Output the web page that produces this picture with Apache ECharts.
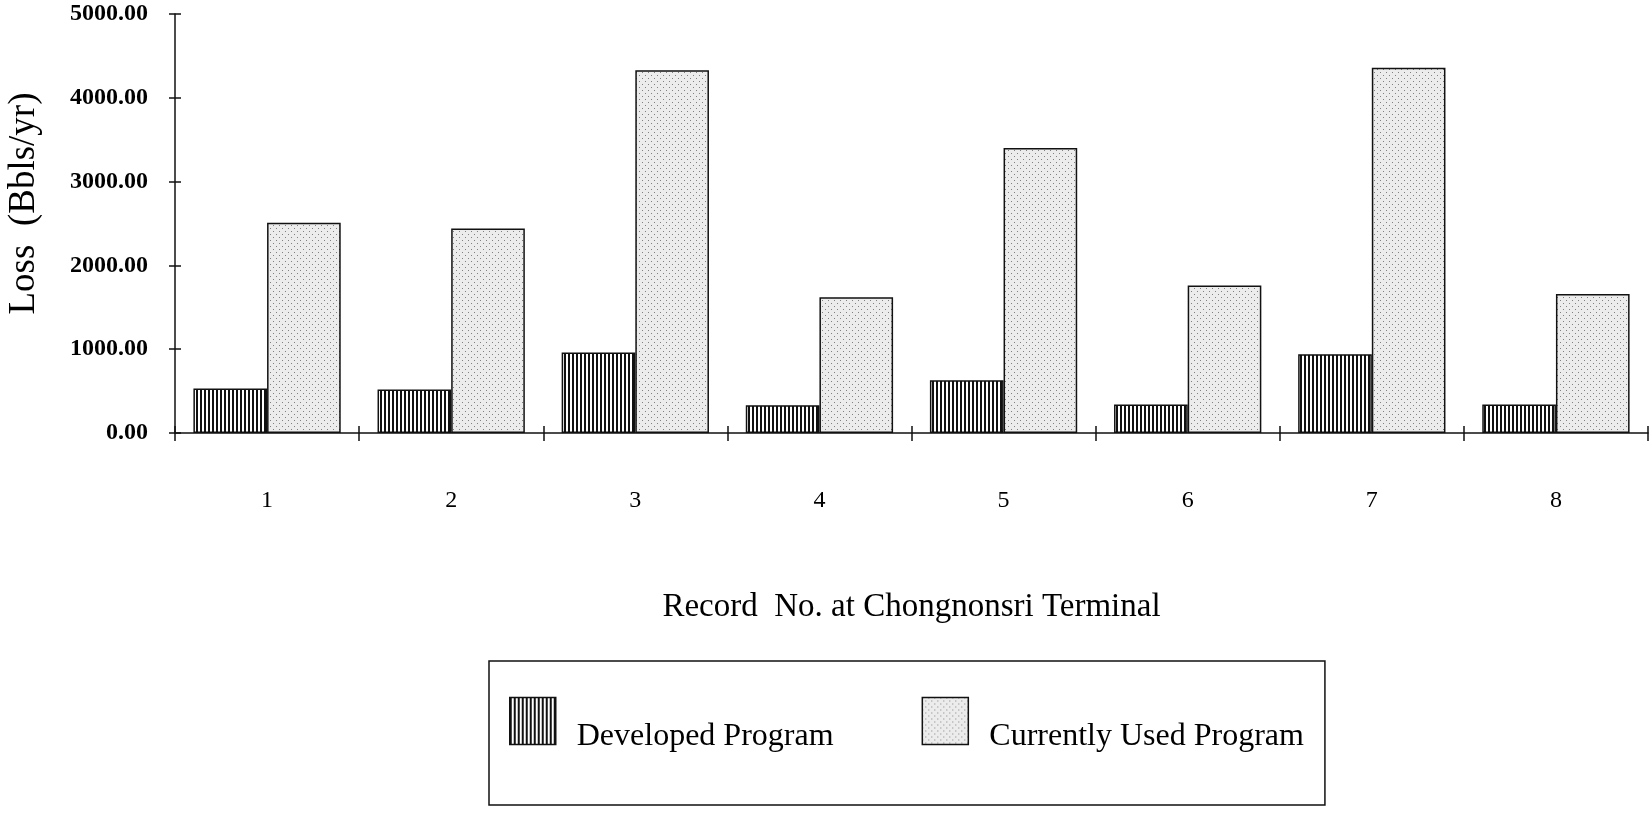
<!DOCTYPE html>
<html>
<head>
<meta charset="utf-8">
<script src="https://cdn.jsdelivr.net/npm/echarts@6/dist/echarts.min.js"></script>
<style>
  html, body { margin: 0; padding: 0; background: #fff; }
  #main { width: 1650px; height: 816px; }
</style>
</head>
<body>
<div id="main"></div>
<script>
// record numbers on the x axis
var records = ['1', '2', '3', '4', '5', '6', '7', '8']
// loss in Bbls/yr
var developedLoss = [530, 520, 960, 330, 630, 340, 940, 340]
var currentLoss = [2510, 2440, 4330, 1620, 3400, 1760, 4360, 1660]
var yTicks = [0, 1000, 2000, 3000, 4000, 5000]

var serif = '"Liberation Serif", "DejaVu Serif", serif'

/* vertical stripes for the developed program */
function stripePattern () {
    var c = document.createElement('canvas')
    c.width = 4
    c.height = 4
    var ctx = c.getContext('2d')
    ctx.fillStyle = '#fff'
    ctx.fillRect(0, 0, 4, 4)
    ctx.fillStyle = '#111'
    ctx.fillRect(0, 0, 2, 4)
    return c
}

/* fine dots for the currently used program */
function dotPattern () {
    var c = document.createElement('canvas')
    c.width = 6
    c.height = 6
    var ctx = c.getContext('2d')
    ctx.fillStyle = '#ececec'
    ctx.fillRect(0, 0, 6, 6)
    ctx.fillStyle = '#808080'
    ctx.fillRect(0, 0, 1, 1)
    ctx.fillRect(3, 3, 1, 1)
    return c
}

var stripeFill = { image: stripePattern(), repeat: 'repeat' }
var dotFill = { image: dotPattern(), repeat: 'repeat' }

var myChart = echarts.init(document.getElementById('main'), null, { renderer: 'canvas' })

var option = {
    backgroundColor: '#fff',
    animation: false,
    textStyle: { fontFamily: serif, color: '#000' },
    grid: { left: 175, right: 2, top: 14, bottom: 383, outerBoundsMode: 'none', containLabel: false },
    legend: {
        left: 489,
        top: 661,
        orient: 'horizontal',
        padding: [28, 21, 52, 20],
        itemWidth: 46,
        itemHeight: 47,
        itemGap: 88,
        borderColor: '#111',
        borderWidth: 1.5,
        // empty first line pushes the label below the swatch centre, as in the scan
        formatter: function (name) { return '\n' + name },
        textStyle: { fontFamily: serif, fontSize: 32, lineHeight: 32, color: '#000', padding: [0, 0, 0, 16] },
        data: [
            { name: 'Developed Program', icon: 'rect', itemStyle: { color: stripeFill, borderColor: '#111', borderWidth: 1.5 } },
            { name: 'Currently Used Program', icon: 'rect', itemStyle: { color: dotFill, borderColor: '#111', borderWidth: 1.5 } }
        ]
    },
    xAxis: [{
        type: 'category',
        data: records,
        position: 'bottom',
        name: 'Record  No. at Chongnonsri Terminal',
        nameLocation: 'middle',
        nameGap: 158,
        nameTextStyle: { fontFamily: serif, fontSize: 33, color: '#000', verticalAlign: 'top' },
        axisLine: { lineStyle: { color: '#111', width: 1.5 } },
        axisTick: { show: true, length: 8, lineStyle: { color: '#111', width: 1.5 } },
        axisLabel: { interval: 0, margin: 56, fontFamily: serif, fontSize: 24, color: '#000' },
        splitLine: { show: false }
    }, {
        // inner half of the crossing ticks
        type: 'category',
        data: records,
        position: 'bottom',
        axisLine: { show: false },
        axisTick: { show: true, inside: true, length: 7, lineStyle: { color: '#111', width: 1.5 } },
        axisLabel: { show: false },
        splitLine: { show: false }
    }],
    yAxis: [{
        type: 'value',
        min: yTicks[0],
        max: yTicks[yTicks.length - 1],
        interval: 1000,
        position: 'left',
        name: 'Loss  (Bbls/yr)',
        nameLocation: 'middle',
        nameGap: 132,
        nameRotate: 90,
        nameTextStyle: { fontFamily: serif, fontSize: 37, color: '#000', padding: [0, 0, 0, 40] },
        axisLine: { show: true, lineStyle: { color: '#111', width: 1.5 } },
        axisTick: { show: true, length: 6, lineStyle: { color: '#111', width: 1.5 } },
        axisLabel: {
            margin: 27,
            fontFamily: serif,
            fontSize: 24,
            fontWeight: 'bold',
            color: '#000',
            formatter: function (v) { return v.toFixed(2) }
        },
        splitLine: { show: false }
    }, {
        type: 'value',
        min: yTicks[0],
        max: yTicks[yTicks.length - 1],
        interval: 1000,
        position: 'left',
        axisLine: { show: false },
        axisTick: { show: true, inside: true, length: 6, lineStyle: { color: '#111', width: 1.5 } },
        axisLabel: { show: false },
        splitLine: { show: false }
    }],
    series: [{
        name: 'Developed Program',
        type: 'bar',
        xAxisIndex: 0,
        yAxisIndex: 0,
        data: developedLoss,
        barGap: '0%',
        barCategoryGap: '20%',
        itemStyle: { color: stripeFill, borderColor: '#111', borderWidth: 1.5 }
    }, {
        name: 'Currently Used Program',
        type: 'bar',
        xAxisIndex: 0,
        yAxisIndex: 0,
        data: currentLoss,
        barGap: '0%',
        barCategoryGap: '20%',
        itemStyle: { color: dotFill, borderColor: '#111', borderWidth: 1.5 }
    }]
}

myChart.setOption(option)
window.onresize = myChart.resize
</script>
</body>
</html>
